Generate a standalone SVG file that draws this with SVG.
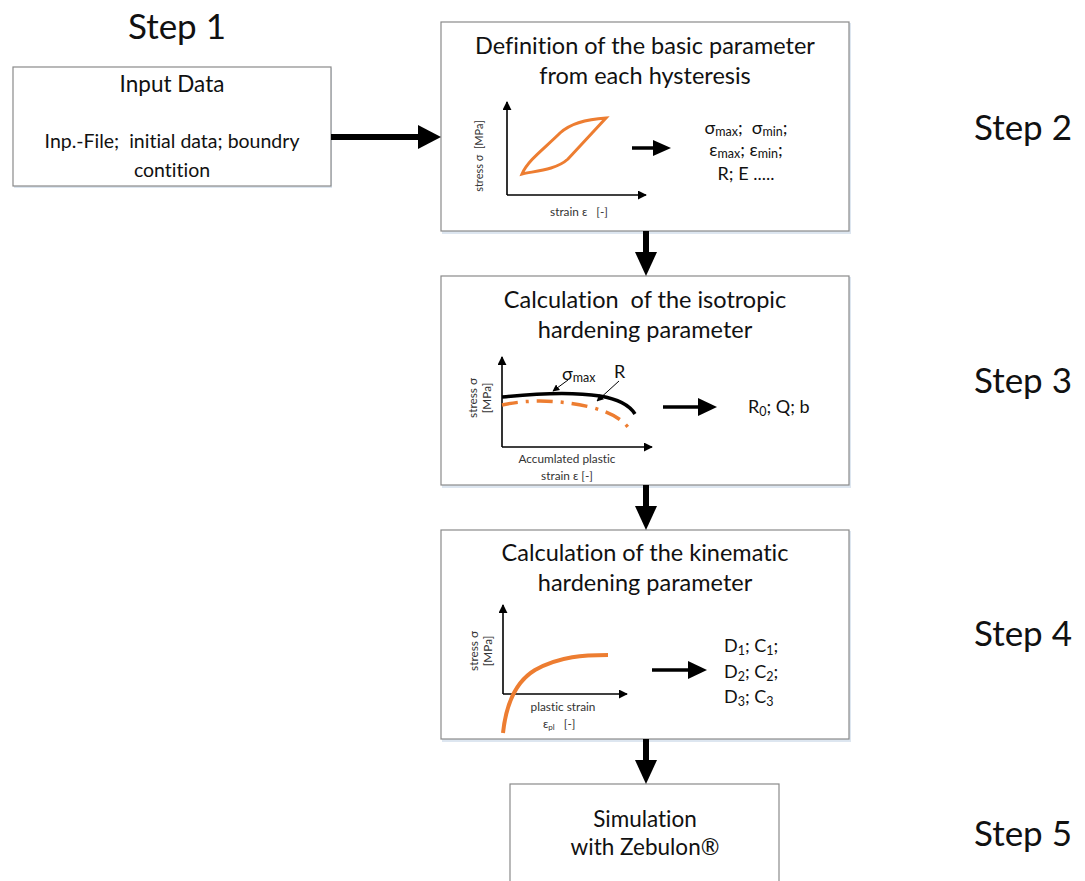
<svg xmlns="http://www.w3.org/2000/svg" width="1085" height="881" viewBox="0 0 1085 881" xml:space="preserve">
<defs>
<style>
text{font-family:Lato,"Open Sans","Liberation Sans",sans-serif;fill:#111;white-space:pre;font-variant-ligatures:none;font-feature-settings:"liga" 0;}
.box{fill:#fff;stroke:#8a8a8a;stroke-width:1.2;}
.shadow{fill:#dde6f0;}
.step{font-size:35px;text-anchor:middle;}
.title{font-size:23.5px;text-anchor:middle;}
.body{font-size:19.5px;text-anchor:middle;}
.par{font-size:18px;}
.small{font-size:11.8px;fill:#333;}
.axis{stroke:#000;stroke-width:1.6;fill:none;}
.conn{stroke:#000;stroke-width:6;fill:none;}
.inner{stroke:#000;stroke-width:3.5;fill:none;}
.orange{stroke:#ed7d31;fill:none;}
</style>
<marker id="ax" viewBox="0 0 10 10" refX="9" refY="5" markerWidth="9" markerHeight="9" markerUnits="userSpaceOnUse" orient="auto"><path d="M0,0 L10,5 L0,10 Z" fill="#000"/></marker>
<marker id="lead" viewBox="0 0 10 10" refX="9" refY="5" markerWidth="7" markerHeight="7" markerUnits="userSpaceOnUse" orient="auto"><path d="M0,0 L10,5 L0,10 Z" fill="#000"/></marker>
</defs>
<rect width="1085" height="881" fill="#fff"/>

<g id="labels">
<text class="step" x="177" y="39">Step 1</text>
<text class="step" x="1023" y="140">Step 2</text>
<text class="step" x="1023" y="393">Step 3</text>
<text class="step" x="1023" y="646">Step 4</text>
<text class="step" x="1023" y="846">Step 5</text>
</g>

<g id="input">
<rect class="shadow" x="14" y="68" width="318" height="120"/>
<rect class="box" x="13" y="67" width="318" height="119"/>
<text class="title" x="172" y="92" style="font-size:22.5px">Input Data</text>
<text class="body" x="172" y="148">Inp.-File;  initial data; boundry</text>
<text class="body" x="172" y="177">contition</text>
</g>

<g id="step2">
<rect class="shadow" x="442" y="23" width="409" height="211"/>
<rect class="box" x="441" y="22" width="408" height="209"/>
<text class="title" x="645" y="54">Definition of the basic parameter</text>
<text class="title" x="645" y="84">from each hysteresis</text>
<path class="axis" d="M507,195 V102" marker-end="url(#ax)"/>
<path class="axis" d="M507,195 H646" marker-end="url(#ax)"/>
<path class="orange" stroke-width="3" d="M522,174 C528,160 545,148 560,133 C572,122 590,119 606,118 L568,159 C556,170 535,171 522,174 Z"/>
<text class="small" transform="translate(483,156) rotate(-90)" text-anchor="middle" style="font-size:11px">stress σ  [MPa]</text>
<text class="small" x="579" y="216" text-anchor="middle">strain ε   [-]</text>
<path class="inner" d="M632,148 H654"/>
<path d="M653,140 L671,148 L653,156 Z"/>
<text class="par" x="746" y="134" text-anchor="middle">σ<tspan font-size="12.5" dy="2">max</tspan><tspan dy="-2">;  σ</tspan><tspan font-size="12.5" dy="2">min</tspan><tspan dy="-2">;</tspan></text>
<text class="par" x="746" y="156" text-anchor="middle">ε<tspan font-size="12.5" dy="2">max</tspan><tspan dy="-2">; ε</tspan><tspan font-size="12.5" dy="2">min</tspan><tspan dy="-2">;</tspan></text>
<text class="par" x="746" y="180" text-anchor="middle">R; E .....</text>
</g>

<g id="step3">
<rect class="shadow" x="442" y="277" width="409" height="211"/>
<rect class="box" x="441" y="276" width="408" height="209"/>
<text class="title" x="645" y="308">Calculation  of the isotropic</text>
<text class="title" x="645" y="338">hardening parameter</text>
<path class="axis" d="M502,447 V357" marker-end="url(#ax)"/>
<path class="axis" d="M502,447 H652" marker-end="url(#ax)"/>
<path stroke="#000" stroke-width="3.5" fill="none" d="M502,397 C540,393 575,392 600,396 C618,399 630,406 635,414"/>
<path class="orange" stroke-width="3.5" stroke-dasharray="16,8,3,8" d="M502,405 C530,399 560,400 590,407 C610,412 625,420 631,432"/>
<path stroke="#000" stroke-width="1" d="M568,380 L553,391" marker-end="url(#lead)"/>
<path stroke="#000" stroke-width="1" d="M619,381 L597,401" marker-end="url(#lead)"/>
<text class="par" x="562" y="380">σ<tspan font-size="12.5" dy="2">max</tspan></text>
<text class="par" x="614" y="378">R</text>
<text class="small" transform="translate(477,398) rotate(-90)" text-anchor="middle">stress σ</text>
<text class="small" transform="translate(491,398) rotate(-90)" text-anchor="middle">[MPa]</text>
<text class="small" x="567" y="463" text-anchor="middle">Accumlated plastic</text>
<text class="small" x="567" y="480" text-anchor="middle">strain ε [-]</text>
<path class="inner" d="M663,407 H700"/>
<path d="M698,398 L717,407 L698,416 Z"/>
<text class="par" x="748" y="413">R<tspan font-size="12.5" dy="3">0</tspan><tspan dy="-3">; Q; b</tspan></text>
</g>

<g id="step4">
<rect class="shadow" x="442" y="531" width="409" height="211"/>
<rect class="box" x="441" y="530" width="408" height="209"/>
<text class="title" x="645" y="561">Calculation of the kinematic</text>
<text class="title" x="645" y="591">hardening parameter</text>
<path class="axis" d="M503,694 V605" marker-end="url(#ax)"/>
<path class="axis" d="M503,694 H627" marker-end="url(#ax)"/>
<path class="orange" stroke-width="4" d="M503,733 C506,705 515,682 535,670 C560,656 585,655 608,655"/>
<text class="small" transform="translate(478,651) rotate(-90)" text-anchor="middle">stress σ</text>
<text class="small" transform="translate(492,651) rotate(-90)" text-anchor="middle">[MPa]</text>
<text class="small" x="563" y="711" text-anchor="middle">plastic strain</text>
<text class="small" x="543" y="728">ε<tspan font-size="8" dy="2">pl</tspan><tspan dy="-2">   [-]</tspan></text>
<path class="inner" d="M652,670 H690"/>
<path d="M688,661 L707,670 L688,679 Z"/>
<text class="par" x="724" y="652">D<tspan font-size="12.5" dy="3">1</tspan><tspan dy="-3">; C</tspan><tspan font-size="12.5" dy="3">1</tspan><tspan dy="-3">;</tspan></text>
<text class="par" x="724" y="678">D<tspan font-size="12.5" dy="3">2</tspan><tspan dy="-3">; C</tspan><tspan font-size="12.5" dy="3">2</tspan><tspan dy="-3">;</tspan></text>
<text class="par" x="724" y="703">D<tspan font-size="12.5" dy="3">3</tspan><tspan dy="-3">; C</tspan><tspan font-size="12.5" dy="3">3</tspan></text>
</g>

<g id="step5">
<rect class="box" x="510" y="784" width="269" height="110"/>
<text class="title" x="645" y="827" style="font-size:22.5px">Simulation</text>
<text class="title" x="645" y="855" style="font-size:22.5px">with Zebulon®</text>
</g>

<g id="connectors">
<path class="conn" d="M331,137 H420"/>
<path d="M418,125 L441,137 L418,149 Z"/>
<path class="conn" d="M646,231 V254"/>
<path d="M635,252 L646,276 L657,252 Z"/>
<path class="conn" d="M646,485 V508"/>
<path d="M635,506 L646,530 L657,506 Z"/>
<path class="conn" d="M646,739 V762"/>
<path d="M635,760 L646,784 L657,760 Z"/>
</g>
</svg>
